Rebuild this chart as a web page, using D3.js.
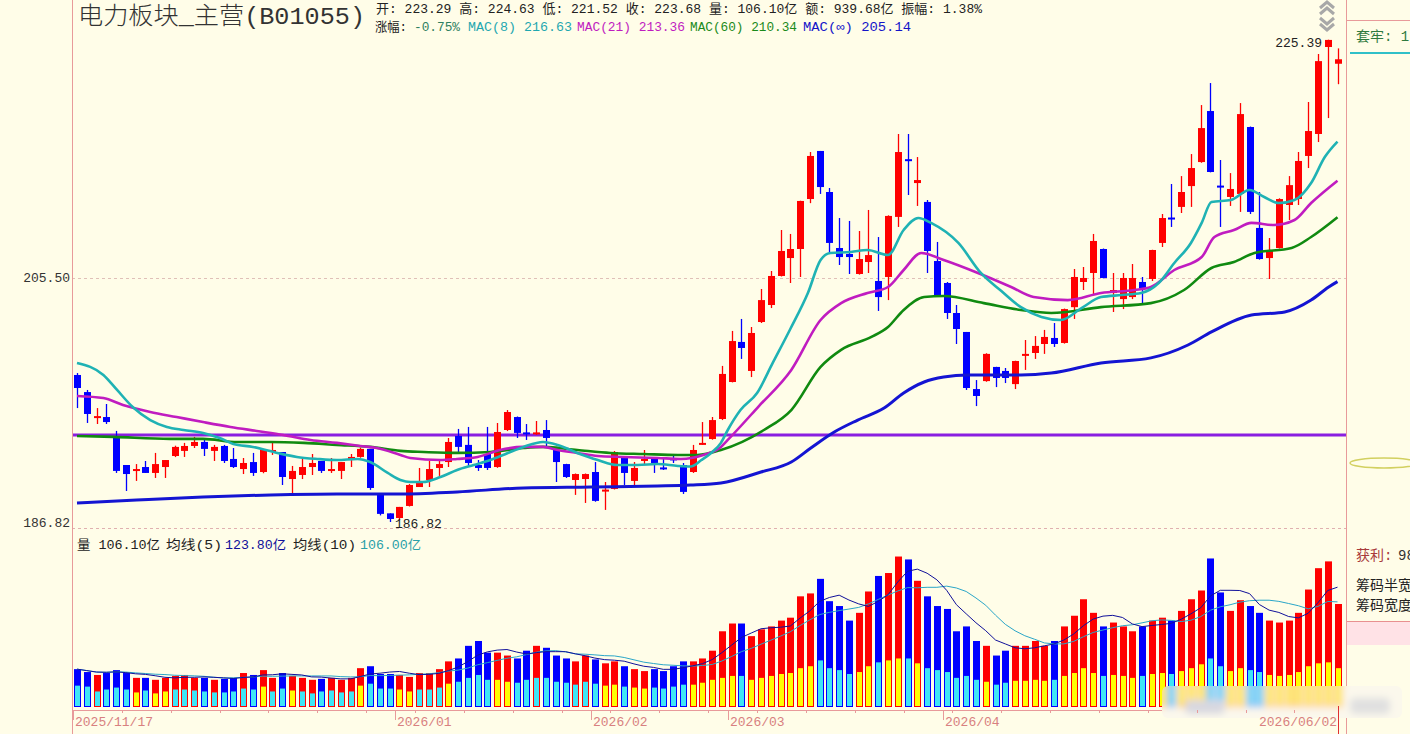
<!DOCTYPE html>
<html><head><meta charset="utf-8">
<script src="https://cdn.jsdelivr.net/npm/d3@7"></script>
<style>
body{margin:0;background:#fffde8;}
svg{display:block;}
text{font-family:"Liberation Mono","Noto Sans CJK SC",monospace;}
</style></head><body>
<script>
// ---- data ----
const opens=[197.82,196.51,194.61,194.61,193.11,191.01,190.64,190.86,190.42,190.86,191.68,192.06,192.43,192.73,192.06,192.43,191.46,190.71,191.23,190.49,
192.06,191.98,189.97,190.27,190.86,191.31,190.64,190.57,191.53,191.61,192.21,188.94,187.45,187.11,187.99,189.38,189.90,190.79,191.23,193.18,
192.51,191.01,191.83,190.86,193.63,194.61,193.45,193.38,193.63,192.13,191.08,189.90,189.97,190.49,189.12,189.24,191.53,189.83,191.38,191.53,
190.83,191.50,191.01,190.49,192.60,192.95,194.46,197.28,200.38,198.13,201.94,203.28,205.59,207.03,207.76,211.84,215.84,212.42,207.84,207.36,
205.75,206.71,205.19,205.51,210.37,215.15,213.16,211.60,206.79,205.03,202.65,201.16,196.74,197.35,198.44,198.13,197.12,199.38,199.52,200.22,
200.69,200.30,203.11,205.11,205.83,207.76,204.23,203.75,203.91,205.11,205.35,208.25,210.32,211.19,212.91,214.91,219.22,212.95,212.01,212.26,
217.86,209.47,207.03,207.84,211.35,211.84,215.42,217.27,224.75,223.29];
const highs=[197.97,196.67,195.29,195.60,193.56,191.01,191.08,191.31,191.91,191.38,192.45,192.66,193.11,192.88,192.51,192.51,192.28,191.53,191.91,192.20,
192.66,191.98,190.94,191.46,191.83,191.31,191.53,191.23,191.83,192.30,192.21,188.94,187.45,187.92,189.60,190.79,191.31,191.38,193.03,193.71,
193.86,191.38,193.86,194.16,195.14,194.65,194.08,194.31,194.38,192.36,191.10,190.38,190.38,191.23,189.75,192.05,191.61,191.23,192.13,191.55,
191.53,191.76,191.16,192.51,194.23,194.61,198.52,201.24,202.18,201.55,204.55,205.99,209.30,208.98,211.70,215.75,215.84,212.75,210.28,210.04,
209.22,210.94,208.73,210.50,217.27,217.27,215.33,211.76,208.33,205.11,203.28,201.16,197.43,199.50,198.45,198.36,198.92,200.53,200.84,201.32,
201.86,203.00,206.15,206.31,208.98,207.80,205.83,205.83,206.55,205.51,207.70,210.61,213.08,213.74,215.58,219.73,221.62,215.08,213.99,219.90,
217.90,212.42,208.65,211.90,213.74,215.75,219.99,224.14,225.39,224.63];
const lows=[195.29,194.16,194.08,194.08,190.42,189.09,189.83,190.42,190.05,190.05,191.60,191.61,192.28,191.68,191.31,191.16,190.79,190.34,190.20,190.40,
191.76,189.53,188.94,189.97,190.27,190.42,190.42,189.97,190.86,191.55,189.17,187.30,186.82,186.97,187.95,189.38,189.38,190.20,190.86,191.98,
190.86,190.57,190.64,190.80,193.55,193.03,192.88,193.26,192.36,189.75,190.05,188.80,188.21,188.30,187.70,189.20,189.53,189.53,191.08,190.42,
190.64,191.16,188.87,190.42,192.51,192.90,194.38,197.25,199.06,197.66,201.86,203.04,205.55,205.03,205.51,211.50,212.26,207.44,206.47,205.75,
205.70,205.83,202.81,203.67,209.55,212.17,211.27,205.83,204.00,202.18,200.22,196.67,195.44,197.30,196.89,197.20,196.74,198.21,199.06,199.45,
199.99,200.25,202.18,204.47,204.07,205.40,202.73,202.96,203.75,203.43,205.19,207.92,209.55,210.69,211.19,214.85,214.05,209.55,211.27,210.78,
210.61,206.90,205.35,207.80,210.12,211.35,214.41,216.59,218.62,221.52];
const closes=[196.82,194.84,194.68,194.23,190.57,190.34,190.71,190.42,191.08,191.38,192.36,192.43,192.73,192.21,192.36,191.31,190.86,191.16,190.42,192.13,
192.13,190.12,190.57,190.86,191.16,190.57,190.71,191.23,191.61,192.21,189.31,187.41,187.04,187.92,189.53,189.68,190.71,191.08,192.73,192.36,
191.16,190.79,190.79,193.48,194.99,193.41,193.38,193.45,193.03,191.23,190.12,190.34,190.34,188.36,189.19,191.98,190.42,190.79,191.46,191.16,
190.76,191.38,189.02,192.13,192.66,194.38,197.90,200.45,199.91,201.08,203.67,205.59,207.60,207.76,211.68,215.42,212.83,208.25,207.11,207.11,
206.95,207.27,203.91,210.45,215.75,215.00,213.41,207.60,204.07,202.65,201.39,196.82,196.21,199.45,197.59,197.59,198.90,199.45,200.07,200.77,
200.22,202.96,205.51,205.43,208.41,205.43,204.47,205.43,205.43,204.63,207.68,210.28,210.24,212.42,214.41,217.77,214.08,212.88,212.67,218.96,
210.78,206.95,207.60,211.84,212.99,215.00,217.52,223.52,225.37,223.68];

// volume (亿) and the lighter inner part of each bar
const volumes=[39,36,33,35,38,35,30,30,28,30,32,33,30,30,28,29,30,35,33,38,30,35,32,30,28,29,30,28,30,40,42,34,34,33,
31,35,35,39,47,50,63,68,56,56,53,50,58,63,61,53,50,47,53,49,45,47,42,39,37,39,37,42,47,47,50,58,
78,86,86,73,80,83,89,92,114,117,132,109,104,89,97,119,135,138,155,152,130,114,104,101,78,83,68,63,53,58,63,63,68,63,
68,83,94,111,97,83,87,83,78,83,89,92,89,99,111,120,153,118,99,110,104,97,89,87,89,97,121,143,150,106.1];
const innerVol=[22,21,16,18,20,18,15,17,14,16,18,18,17,16,15,15,16,19,18,21,16,19,17,16,14,16,17,15,16,22,24,19,19,18,
16,18,18,20,24,26,30,33,28,28,26,25,28,30,30,26,25,23,26,24,22,23,21,20,19,20,19,21,23,23,25,28,
30,32,32,28,30,32,34,35,40,42,48,40,38,34,36,42,46,48,50,50,45,40,38,36,30,32,28,26,23,25,27,27,28,27,
28,32,35,40,35,32,33,32,30,32,34,35,34,37,40,44,50,42,37,40,38,36,33,32,33,36,42,45,46,40];
// bars whose inner part is yellow (before March); from index 63 on every red bar is yellow
const yellowInner=[6,8,9,19,22,29,33,34,38,43,44,54,55,57,58,61];

// moving-average cost lines, [candle index, price]
const mac8=[[0,198.75],[2.7,197.82],[4.1,196.67],[5.7,195.37],[7.5,194.38],[9.2,193.86],[10.9,193.63],[12.9,193.41],[14.6,193.03],[16,192.58],
[18,192.36],[20.5,191.91],[22.5,191.61],[24.6,191.46],[26.6,191.38],[28.7,191.46],[30,191.23],[31.8,190.42],[33.1,189.90],[34.1,189.75],
[35.4,189.75],[37.2,190.12],[38.9,190.64],[40.6,191.01],[42.3,191.38],[44.1,191.91],[45.7,192.36],[47.7,192.73],[49.2,192.51],[51.2,191.91],
[53.3,191.38],[55.3,191.01],[57.4,191.01],[59.4,191.08],[61.5,190.94],[62.8,190.90],[63.9,191.38],[64.9,191.91],[65.9,192.66],[66.6,193.63],
[67.9,195.14],[69.6,196.44],[71.2,198.75],[73.0,201.39],[74.8,204.23],[76.1,206.87],[77.1,207.44],[79.2,207.52],[80.9,207.68],[83.0,207.27],
[84.6,209.30],[86.1,210.28],[87.4,209.88],[90.2,208.25],[92.5,205.83],[94.6,204.39],[96.6,203.11],[98.7,202.34],[100.7,202.10],[102.8,203.04],
[104.8,203.91],[106.9,204.07],[108.9,204.23],[110.7,205.03],[112.3,206.63],[114.0,208.25],[115.1,209.88],[116.1,211.60],[118.1,211.76],[120,212.59],
[121.5,212.01],[123,211.51],[124.6,211.76],[126.3,213.16],[127.7,215.33],[129,216.63]];
const mac21=[[0,196.21],[2.7,196.05],[4.7,195.52],[7.5,194.99],[10.2,194.61],[12.9,194.23],[15.7,193.86],[18.4,193.56],[21.1,193.26],[23.9,192.88],
[26.6,192.66],[29.0,192.43],[30.7,192.28],[33.1,191.76],[34.1,191.53],[37.2,191.38],[38.9,191.46],[41.0,191.61],[43.3,192.13],[45.7,192.36],
[47.7,192.36],[49.2,192.13],[51.2,191.91],[53.3,191.68],[55.9,191.61],[59.4,191.53],[61.8,191.46],[64.1,191.76],[65.9,192.36],[66.6,192.88],
[69.7,195.37],[73.1,198.21],[76.1,202.10],[78.2,203.43],[80.9,204.23],[83.0,204.71],[84.6,206.07],[86.4,207.44],[88.7,206.87],[92.2,205.83],
[95.6,204.71],[97.9,203.91],[101.4,203.67],[104.8,204.23],[108.2,204.47],[109.9,204.71],[112.3,206.07],[115.1,207.11],[116.4,208.73],[118.4,209.30],
[120.2,209.88],[122.5,209.71],[124.6,210.12],[126.3,211.51],[129,213.36]];
const mac60=[[0,193.18],[3.7,193.11],[9.5,192.96],[12.9,192.96],[16.4,192.73],[19.8,192.73],[23.2,192.66],[26.6,192.51],[30.0,192.36],[33.1,192.06],
[35.5,191.98],[38.9,191.91],[42.3,191.98],[45.7,192.28],[47.7,192.36],[51.2,192.13],[54.6,191.91],[58.0,191.83],[61.5,191.76],[63.5,191.76],
[65.9,192.13],[70.3,193.63],[73.1,195.14],[76.1,198.44],[78.2,199.76],[81.3,200.77],[83.0,201.55],[84.6,202.89],[86.7,203.91],[88.7,203.99],
[92.8,203.43],[96.6,202.89],[99.7,202.65],[104.8,203.11],[109.9,203.43],[113.3,204.47],[116.1,206.23],[118.4,206.71],[120.5,207.44],[124.3,207.84],
[126.3,208.73],[129,210.34]];
const macInf=[[0,188.21],[6.1,188.43],[12.9,188.65],[19.8,188.80],[26.6,188.87],[33.1,188.87],[38.9,189.02],[45.7,189.31],[52.6,189.38],[59.4,189.46],
[62.8,189.53],[65.9,189.68],[70.0,190.49],[73.1,191.23],[75.1,192.28],[77.5,193.48],[79.9,194.38],[82.6,195.29],[84.6,196.44],[86.7,197.28],
[88.7,197.66],[91.2,197.82],[96.6,197.82],[99.7,197.97],[104.8,198.75],[109.9,199.14],[113.7,200.14],[116.1,201.16],[120.2,202.49],[123.6,202.73],
[126.3,203.67],[128.1,204.71],[129,205.14]];
const costLine=193.26;

const priceTicks=[205.50,186.82];
const dateTickIdx=[0,33,53,67,89,129];
const dateTickLabels=["2025/11/17","2026/01","2026/02","2026/03","2026/04","2026/06/02"];

// ---- drawing ----
const W=1410,H=734;
const svg=d3.select("body").append("svg").attr("width",W).attr("height",H);
svg.append("rect").attr("width",W).attr("height",H).attr("fill","#fffde8");
const defs=svg.append("defs");
defs.append("filter").attr("id","blur").attr("x","-5%").attr("y","-30%").attr("width","110%").attr("height","160%")
  .append("feGaussianBlur").attr("stdDeviation",3.5);
defs.append("clipPath").attr("id","wm").append("rect").attr("x",1162).attr("y",686).attr("width",240).attr("height",32).attr("rx",6);

const x=d3.scaleLinear().domain([0,129]).range([77,1337.5]);
const y=d3.scaleLog().domain([186.82,225.39]).range([522,39.7]);
const yv=d3.scaleLinear().domain([0,106.1]).range([707,604]);
const red="#ff0000",blue="#0000ff",frame="#e89a9a";
const isUp=i=>closes[i]>=opens[i];
const innerFill=i=>(isUp(i)&&(i>=63||yellowInner.includes(i)))?"#ffff00":"#3ee6f6";

// grid lines
svg.append("line").attr("x1",72).attr("x2",1346).attr("y1",278.5).attr("y2",278.5)
  .attr("stroke","#e0c0b8").attr("stroke-dasharray","3,3");
svg.append("line").attr("x1",72).attr("x2",1346).attr("y1",528.5).attr("y2",528.5)
  .attr("stroke","#e0b0b0").attr("stroke-dasharray","3,3");

// left price labels
svg.selectAll(".ptick").data(priceTicks).enter().append("text")
  .attr("x",70).attr("y",d=>y(d)+5).attr("text-anchor","end")
  .attr("font-size",13).attr("fill","#333").text(d=>d.toFixed(2));

// horizontal cost line
svg.append("line").attr("x1",73).attr("x2",1346).attr("y1",y(costLine)).attr("y2",y(costLine))
  .attr("stroke","#8a1fe0").attr("stroke-width",3);

// candles
const idx=d3.range(opens.length);
const cg=svg.append("g");
cg.selectAll(".wick").data(idx).enter().append("line")
  .attr("x1",i=>Math.round(x(i))+0.5).attr("x2",i=>Math.round(x(i))+0.5)
  .attr("y1",i=>y(highs[i])).attr("y2",i=>y(lows[i]))
  .attr("stroke",i=>isUp(i)?red:blue).attr("stroke-width",1.3);
cg.selectAll(".body").data(idx).enter().append("rect")
  .attr("x",i=>Math.round(x(i))-3).attr("width",7)
  .attr("y",i=>y(Math.max(opens[i],closes[i])))
  .attr("height",i=>Math.max(2,Math.abs(y(opens[i])-y(closes[i]))))
  .attr("fill",i=>isUp(i)?red:blue);

// MAC lines
const line=d3.line().x(d=>x(d[0])).y(d=>y(d[1])).curve(d3.curveMonotoneX);
[[macInf,"#1414d2",3],[mac60,"#108a10",2.6],[mac21,"#c01cc0",2.6],[mac8,"#1fb2b4",2.6]].forEach(([s,c,w])=>{
  svg.append("path").attr("d",line(s)).attr("fill","none").attr("stroke",c).attr("stroke-width",w).attr("stroke-linejoin","round");
});

// high / low labels
svg.append("text").attr("x",1322).attr("y",47).attr("text-anchor","end").attr("font-size",13).attr("fill","#222").text("225.39");
svg.append("text").attr("x",395).attr("y",528).attr("font-size",13).attr("fill","#222").text("186.82");

// volume bars
function drawVolume(g){
  g.selectAll(".vol").data(idx).enter().append("rect")
    .attr("x",i=>Math.round(x(i))-3).attr("width",7)
    .attr("y",i=>yv(volumes[i])).attr("height",i=>yv(0)-yv(volumes[i]))
    .attr("fill",i=>isUp(i)?red:blue);
  g.selectAll(".inner").data(idx).enter().append("rect")
    .attr("x",i=>Math.round(x(i))-2).attr("width",5)
    .attr("y",i=>yv(innerVol[i])).attr("height",i=>yv(0)-yv(innerVol[i])-1)
    .attr("fill",innerFill);
}
drawVolume(svg.append("g"));

// volume averages
function ma(n){return volumes.map((v,i)=>d3.mean(volumes.slice(Math.max(0,i-n+1),i+1)));}
const vline=d3.line().x((d,i)=>x(i)).y(d=>yv(d));
svg.append("path").attr("d",vline(ma(10))).attr("fill","none").attr("stroke","#2aa6c8").attr("stroke-width",1);
svg.append("path").attr("d",vline(ma(5))).attr("fill","none").attr("stroke","#10109a").attr("stroke-width",1);

// frame
svg.append("line").attr("x1",72.5).attr("x2",72.5).attr("y1",0).attr("y2",H).attr("stroke",frame);
svg.append("line").attr("x1",1346.5).attr("x2",1346.5).attr("y1",0).attr("y2",H).attr("stroke",frame);
svg.append("line").attr("x1",72).attr("x2",1346).attr("y1",710.5).attr("y2",710.5).attr("stroke",frame);
svg.append("line").attr("x1",1346).attr("x2",W).attr("y1",20.5).attr("y2",20.5).attr("stroke",frame);

// blurred watermark patch at the bottom right
const wm=svg.append("g").attr("clip-path","url(#wm)").append("g").attr("filter","url(#blur)");
wm.append("rect").attr("x",1150).attr("y",680).attr("width",260).attr("height",54).attr("fill","#fbf8ec");
drawVolume(wm);
wm.append("rect").attr("x",1185).attr("y",700).attr("width",40).attr("height",14).attr("rx",5).attr("fill","#d8d8e0");
wm.append("rect").attr("x",1350).attr("y",698).attr("width",40).attr("height",16).attr("rx",5).attr("fill","#e0e0e0");

// date axis
d3.range(0,130,5).forEach(i=>{
  svg.append("line").attr("x1",Math.round(x(i))-3.5).attr("x2",Math.round(x(i))-3.5).attr("y1",710).attr("y2",713).attr("stroke",frame);
});
dateTickIdx.forEach((d,k)=>{
  const tx=Math.round(x(d))-3.5;
  const last=k===dateTickIdx.length-1;
  if(!last) svg.append("line").attr("x1",tx).attr("x2",tx).attr("y1",710).attr("y2",720).attr("stroke",frame);
  svg.append("text").attr("x",last?1337:tx+1.5).attr("y",726).attr("text-anchor",last?"end":"start")
    .attr("font-size",13).attr("fill","#d88080").text(dateTickLabels[k]);
});
svg.append("line").attr("x1",1338.5).attr("x2",1338.5).attr("y1",706).attr("y2",H).attr("stroke","#e03030");

// header
svg.append("text").attr("x",78).attr("y",24).attr("font-size",24).attr("fill","#333")
  .attr("font-family","Noto Sans CJK SC").attr("font-weight",300).attr("textLength",287).attr("lengthAdjust","spacingAndGlyphs")
  .text("电力板块_主营(B01055)");
svg.append("text").attr("x",376).attr("y",13).attr("font-size",13).attr("fill","#222")
  .attr("textLength",606).attr("lengthAdjust","spacingAndGlyphs")
  .text("开: 223.29 高: 224.63 低: 221.52 收: 223.68 量: 106.10亿 额: 939.68亿 振幅: 1.38%");
[["涨幅:",375,32,"#222"],["-0.75%",414,46,"#2e8060"],["MAC(8) 216.63",468,104,"#1fa8b0"],["MAC(21) 213.36",577,108,"#c01cc0"],
 ["MAC(60) 210.34",690,107,"#1a8a1a"],["MAC(∞) 205.14",803,108,"#1414c8"]].forEach(([t,tx,tl,c])=>{
  svg.append("text").attr("x",tx).attr("y",31).attr("font-size",13).attr("fill",c)
    .attr("textLength",tl).attr("lengthAdjust","spacingAndGlyphs").text(t);
});

// volume legend
[["量 106.10亿",77,83,"#222"],["均线(5)",166,56,"#222"],["123.80亿",225,61,"#10109a"],["均线(10)",293,63,"#222"],["106.00亿",360,61,"#2aa0a8"]]
 .forEach(([t,tx,tl,c])=>{
  svg.append("text").attr("x",tx).attr("y",549).attr("font-size",13).attr("fill",c)
    .attr("textLength",tl).attr("lengthAdjust","spacingAndGlyphs").text(t);
});

// scroll arrows: two up chevrons, two down chevrons
[[5,"up"],[11,"up"],[21,"down"],[27,"down"]].forEach(([cy,dir])=>{
  const a=dir==="up"?3:-3;
  svg.append("path").attr("d",`M1320,${cy+a} L1327,${cy-a} L1334,${cy+a}`)
    .attr("fill","none").attr("stroke","#a8a8a8").attr("stroke-width",3);
});

// right side panel
svg.append("text").attr("x",1356).attr("y",41).attr("font-size",14).attr("fill","#2f7a3f").text("套牢: 1.");
svg.append("line").attr("x1",1350).attr("x2",W).attr("y1",53).attr("y2",53).attr("stroke","#30c0c8").attr("stroke-width",2);
svg.append("ellipse").attr("cx",1384).attr("cy",463).attr("rx",34).attr("ry",5).attr("fill","none").attr("stroke","#d2d060").attr("stroke-width",1.5);
svg.append("text").attr("x",1356).attr("y",560).attr("font-size",14).attr("fill","#a83a3a").text("获利:");
svg.append("text").attr("x",1398).attr("y",560).attr("font-size",14).attr("fill","#333").text("98");
svg.append("text").attr("x",1356).attr("y",590).attr("font-size",14).attr("fill","#222").text("筹码半宽");
svg.append("text").attr("x",1356).attr("y",610).attr("font-size",14).attr("fill","#222").text("筹码宽度");
svg.append("rect").attr("x",1347).attr("y",621).attr("width",63).attr("height",24).attr("fill","#ffe2e6");
svg.append("line").attr("x1",1347).attr("x2",W).attr("y1",621.5).attr("y2",621.5).attr("stroke","#e89090");
</script>
</body></html>
